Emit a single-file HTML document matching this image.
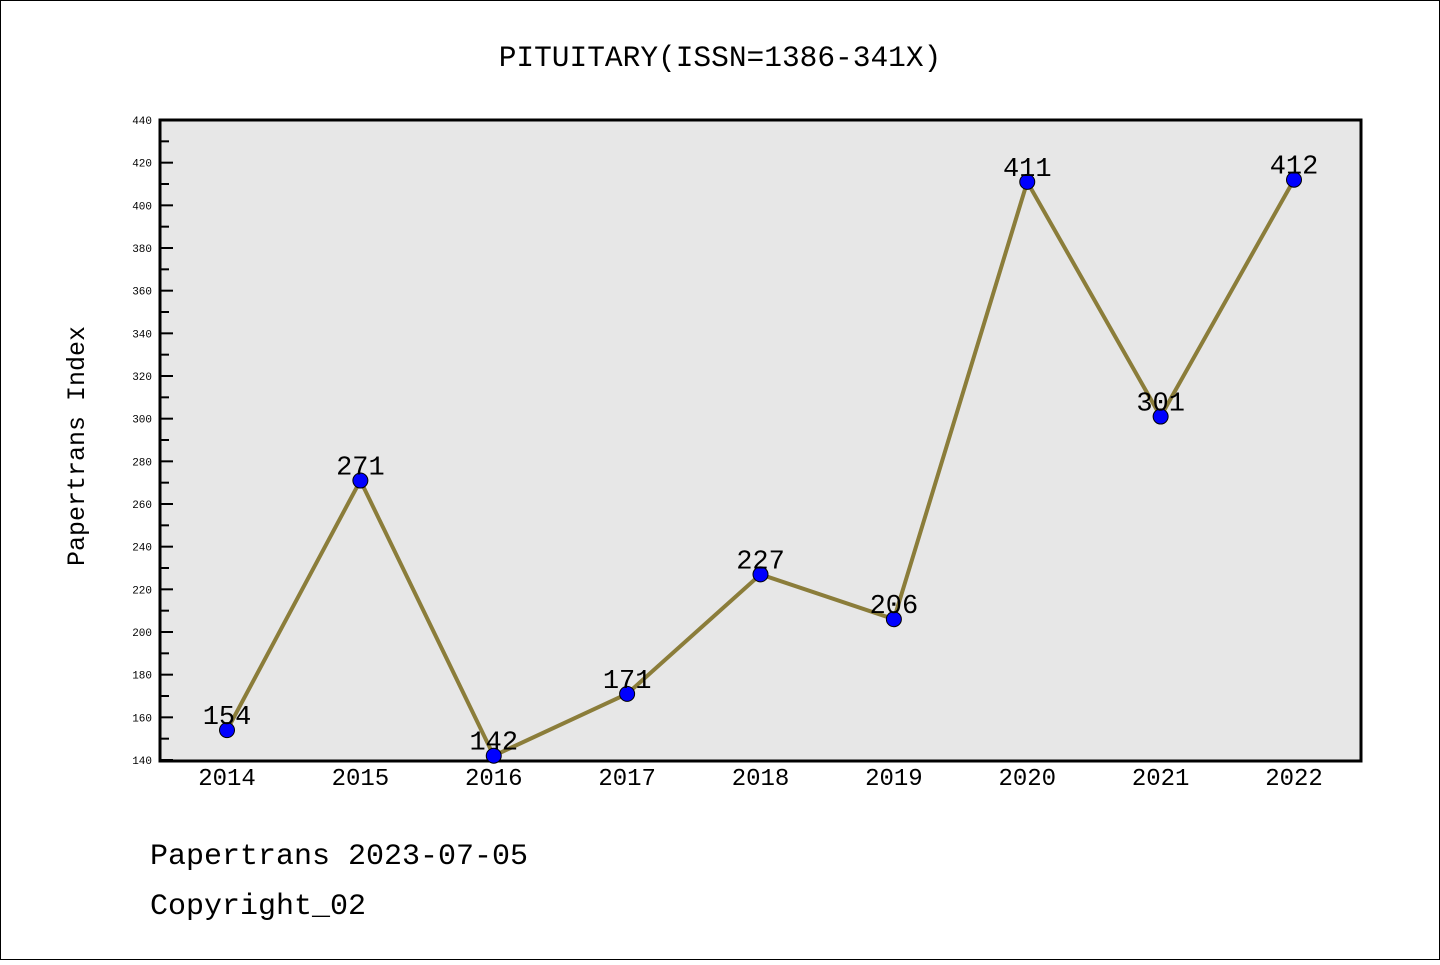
<!DOCTYPE html>
<html><head><meta charset="utf-8"><style>
html,body{margin:0;padding:0;background:#fff}
svg text{font-family:"Liberation Mono","DejaVu Sans Mono",monospace}
</style></head><body>
<svg width="1440" height="960" xmlns="http://www.w3.org/2000/svg">
<rect x="0.5" y="0.5" width="1439" height="959" fill="#fff" stroke="#000"/>
<text x="720" y="66" font-size="29.5" text-anchor="middle">PITUITARY(ISSN=1386-341X)</text>
<rect x="160" y="120" width="1201" height="641" fill="#e7e7e7" stroke="#000" stroke-width="3"/>
<text transform="translate(84,446) rotate(-90)" font-size="25" text-anchor="middle">Papertrans Index</text>
<text x="150" y="864" font-size="30">Papertrans 2023-07-05</text>
<text x="150" y="914" font-size="30">Copyright_02</text>
<g id="ticks"></g><g id="marks"></g>
</svg>
<script>
const years=["2014","2015","2016","2017","2018","2019","2020","2021","2022"];
const values=[154,271,142,171,227,206,411,301,412];
const yTicks=[140,160,180,200,220,240,260,280,300,320,340,360,380,400,420,440];
const NS="http://www.w3.org/2000/svg";
const X0=227,XS=(1294-227)/8,Y0=760,YS=640/300;
const xs=i=>X0+i*XS, ys=v=>Y0-(v-140)*YS;
function mk(t,a,p){const e=document.createElementNS(NS,t);for(const k in a)e.setAttribute(k,a[k]);p.appendChild(e);return e;}
const tg=document.getElementById('ticks'),mg=document.getElementById('marks');
yTicks.forEach((v,i)=>{
 const y=ys(v);
 const l=mk('line',{x1:160,x2:173,y1:y,y2:y,stroke:'#000','stroke-width':2},tg);
 
 
 const t=mk('text',{x:152,y:y+4,'font-size':11,'text-anchor':'end'},tg);t.textContent=v;
 
 
 if(i<yTicks.length-1){const ym=ys(v+10);
  const m=mk('line',{x1:160,x2:169,y1:ym,y2:ym,stroke:'#000','stroke-width':2},tg);
  
  }
});
years.forEach((yr,i)=>{
 const t=mk('text',{x:xs(i),y:785,'font-size':24,'text-anchor':'middle'},tg);t.textContent=yr;
 
 
});
const pl=mk('polyline',{points:values.map((v,i)=>xs(i)+','+ys(v)).join(' '),fill:'none',stroke:'#8b7d3a','stroke-width':4},mg);


values.forEach((v,i)=>{
 const c=mk('circle',{cx:xs(i),cy:ys(v),r:7.5,fill:'#0000ff',stroke:'#000','stroke-width':1},mg);
 
 
 const t=mk('text',{x:xs(i),y:ys(v)-6,'font-size':27,'text-anchor':'middle'},mg);t.textContent=v;
 
 
});
</script>
</body></html>
